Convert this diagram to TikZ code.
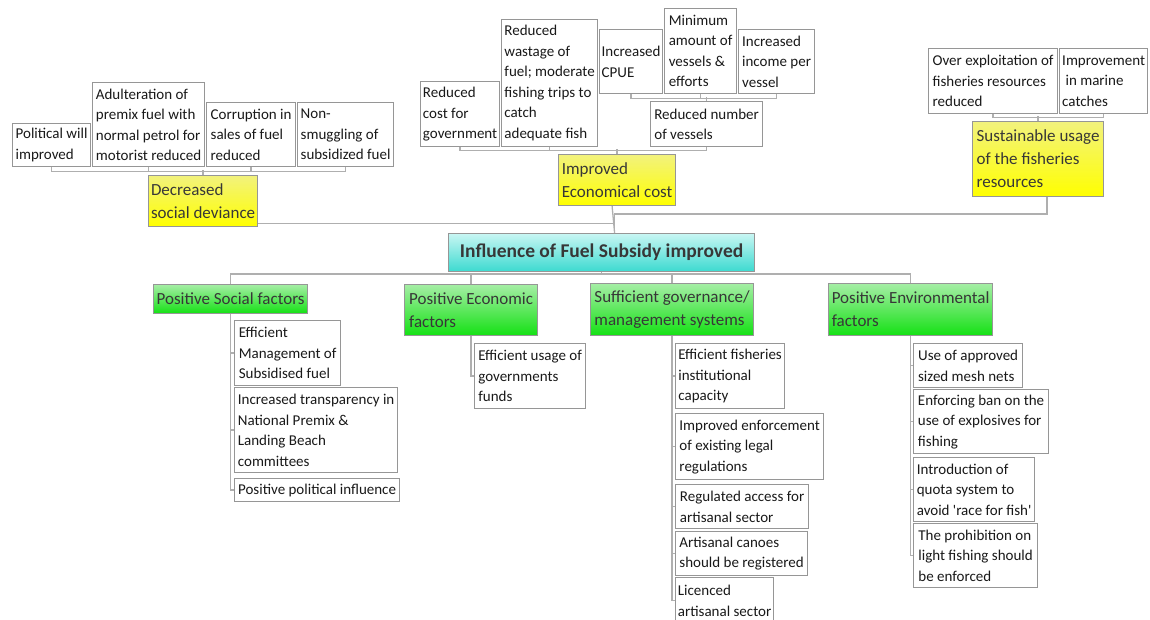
\documentclass[tikz,border=0pt]{standalone}
\usepackage{fontspec}
\setmainfont{Carlito}
\usetikzlibrary{calc}
\definecolor{lineg}{RGB}{175,175,175}
\definecolor{boxg}{RGB}{150,150,150}
\definecolor{txt}{RGB}{25,25,25}
\definecolor{dtxt}{RGB}{55,55,55}
\definecolor{ytop}{RGB}{242,242,125}
\definecolor{ybot}{RGB}{255,255,0}
\definecolor{gtop}{RGB}{165,238,165}
\definecolor{gbot}{RGB}{20,225,20}
\definecolor{ctop}{RGB}{200,246,243}
\definecolor{cbot}{RGB}{60,218,208}
\newcommand\bxnode[7]{\node[#1, anchor=north west, minimum width={(#5-#3)*1pt}, minimum height={(#6-#4)*1pt}] (#2) at (#3,#4) {#7};}
\tikzset{
  basebox/.style={draw=boxg, line width=1.2pt, inner sep=2pt, align=left, rectangle},
  wbox/.style={basebox, fill=white, text=txt, font=\fontsize{15}{20.5}\selectfont},
  ybox/.style={basebox, shading=axis, top color=ytop, bottom color=ybot, text=dtxt, font=\fontsize{17}{23}\selectfont},
  gbox/.style={basebox, shading=axis, top color=gtop, bottom color=gbot, text=dtxt, font=\fontsize{17}{23}\selectfont},
  cbox/.style={basebox, shading=axis, top color=ctop, bottom color=cbot, text=dtxt, align=center, font=\bfseries\fontsize{19.5}{22}\selectfont},
  conn/.style={draw=lineg, line width=1.3pt}
}
\begin{document}
\begin{tikzpicture}[x=1pt,y=-1pt]
\useasboundingbox (0,0) rectangle (1150,619);
\clip (0,0) rectangle (1150,619);
% top-left group
\bxnode{wbox}{pw}{12}{123}{90}{166}{Political will\\improved}
\bxnode{wbox}{adu}{92}{82}{204}{166}{Adulteration of\\premix fuel with\\normal petrol for\\motorist reduced}
\bxnode{wbox}{cor}{206}{102}{295}{166}{Corruption in\\sales of fuel\\reduced}
\bxnode{wbox}{ns}{297}{102}{393}{166}{Non-\\smuggling of\\subsidized fuel}
\bxnode{ybox}{dsd}{148}{175}{257}{226}{Decreased\\social deviance}
% middle group
\bxnode{wbox}{rcg}{420}{81}{499}{146}{Reduced\\cost for\\government}
\bxnode{wbox}{rwf}{501}{19}{597}{146}{Reduced\\wastage of\\fuel; moderate\\fishing trips to\\catch\\adequate fish}
\bxnode{wbox}{cpue}{599}{29}{662}{93}{Increased\\CPUE}
\bxnode{wbox}{mav}{664}{8}{736}{93}{Minimum\\amount of\\vessels \&\\efforts}
\bxnode{wbox}{iip}{738}{29}{814}{93}{Increased\\income per\\vessel}
\bxnode{wbox}{rnv}{650}{101}{762}{146}{Reduced number\\of vessels}
\bxnode{ybox}{iec}{558}{154}{675}{205}{Improved\\Economical cost}
% right group
\bxnode{wbox}{oe}{928}{48}{1057}{113}{Over exploitation of\\fisheries resources\\reduced}
\bxnode{wbox}{imc}{1059}{48}{1147}{113}{Improvement\\\ in marine\\catches}
\bxnode{ybox}{su}{972}{121}{1103}{196}{Sustainable usage\\of the fisheries\\resources}
% centre
\bxnode{cbox}{ifs}{448}{233}{754}{271}{Influence of Fuel Subsidy improved}
% green
\bxnode{gbox}{psf}{153}{284}{307}{313}{Positive Social factors}
\bxnode{gbox}{pec}{404}{284}{537}{335}{Positive Economic\\factors}
\bxnode{gbox}{sgm}{590}{283}{753}{335}{Sufficient governance/\\management systems}
\bxnode{gbox}{penv}{828}{283}{992}{335}{Positive Environmental\\factors}
% children
\bxnode{wbox}{ems}{234}{320}{340}{385}{Efficient\\Management of\\Subsidised fuel}
\bxnode{wbox}{itr}{234}{387}{397}{472}{Increased transparency in\\National Premix \&\\Landing Beach\\committees}
\bxnode{wbox}{ppi}{234}{478}{399}{501}{Positive political influence}
\bxnode{wbox}{eug}{474}{343}{585}{408}{Efficient usage of\\governments\\funds}
\bxnode{wbox}{efi}{675}{343}{784}{408}{Efficient fisheries\\institutional\\capacity}
\bxnode{wbox}{iee}{675}{413}{823}{479}{Improved enforcement\\of existing legal\\regulations}
\bxnode{wbox}{rac}{675}{484}{808}{528}{Regulated access for\\artisanal sector}
\bxnode{wbox}{acr}{675}{531}{807}{575}{Artisanal canoes\\should be registered}
\bxnode{wbox}{las}{675}{577}{773}{623}{Licenced\\artisanal sector}
\bxnode{wbox}{uam}{913}{343}{1022}{387}{Use of approved\\sized mesh nets}
\bxnode{wbox}{ebe}{913}{389}{1048}{453}{Enforcing ban on the\\use of explosives for\\fishing}
\bxnode{wbox}{iqs}{913}{457}{1034}{521}{Introduction of\\quota system to\\avoid \textquotesingle race for fish\textquotesingle}
\bxnode{wbox}{tpl}{913}{523}{1037}{587}{The prohibition on\\light fishing should\\be enforced}
% connectors: top-left bracket
\draw[conn] (pw.south) -- ++(0,4) -| (ns.south);
\draw[conn] (adu.south) -- ++(0,4);
\draw[conn] (cor.south) -- ++(0,4);
\draw[conn] (dsd.north) -- ++(0,-5);
% middle brackets
\draw[conn] (rcg.south) -- ++(0,3) -| (rnv.south);
\draw[conn] (rwf.south) -- ++(0,3);
\draw[conn] (iec.north) -- ++(0,-5);
\draw[conn] (cpue.south) -- ++(0,4) -| (iip.south);
\draw[conn] (mav.south) -- ++(0,4);
\draw[conn] (rnv.north) -- ++(0,-4);
% right bracket
\draw[conn] (oe.south) -- ++(0,3) -| (imc.south);
\draw[conn] (su.north) -- ++(0,-5);
% to the centre
\coordinate (hub) at ($(ifs.north)+(13,0)$);
\draw[conn] ($(dsd.south east)+(0,-4)$) -| (hub);
\draw[conn] ($(iec.south)+(-5,0)$) -- (hub);
\draw[conn] ($(su.south)+(9,0)$) |- ($(hub)+(0,-19)$) -- (hub);
% bottom bracket
\draw[conn] (ifs.south) -- ++(0,3);
\draw[conn] (psf.north) -- ++(0,-10) -| (penv.north);
\draw[conn] (pec.north) -- ++(0,-10);
\draw[conn] (sgm.north) -- ++(0,-10);
% children trunks
\draw[conn] (psf.south) |- (ppi.west);
\draw[conn] (psf.south |- ems.west) -- (ems.west);
\draw[conn] (psf.south |- itr.west) -- (itr.west);
\draw[conn] (pec.south) |- (eug.west);
\draw[conn] (sgm.south) |- (las.west);
\draw[conn] (sgm.south |- efi.west) -- (efi.west);
\draw[conn] (sgm.south |- iee.west) -- (iee.west);
\draw[conn] (sgm.south |- rac.west) -- (rac.west);
\draw[conn] (sgm.south |- acr.west) -- (acr.west);
\draw[conn] (penv.south) |- (tpl.west);
\draw[conn] (penv.south |- uam.west) -- (uam.west);
\draw[conn] (penv.south |- ebe.west) -- (ebe.west);
\draw[conn] (penv.south |- iqs.west) -- (iqs.west);
\end{tikzpicture}
\end{document}
